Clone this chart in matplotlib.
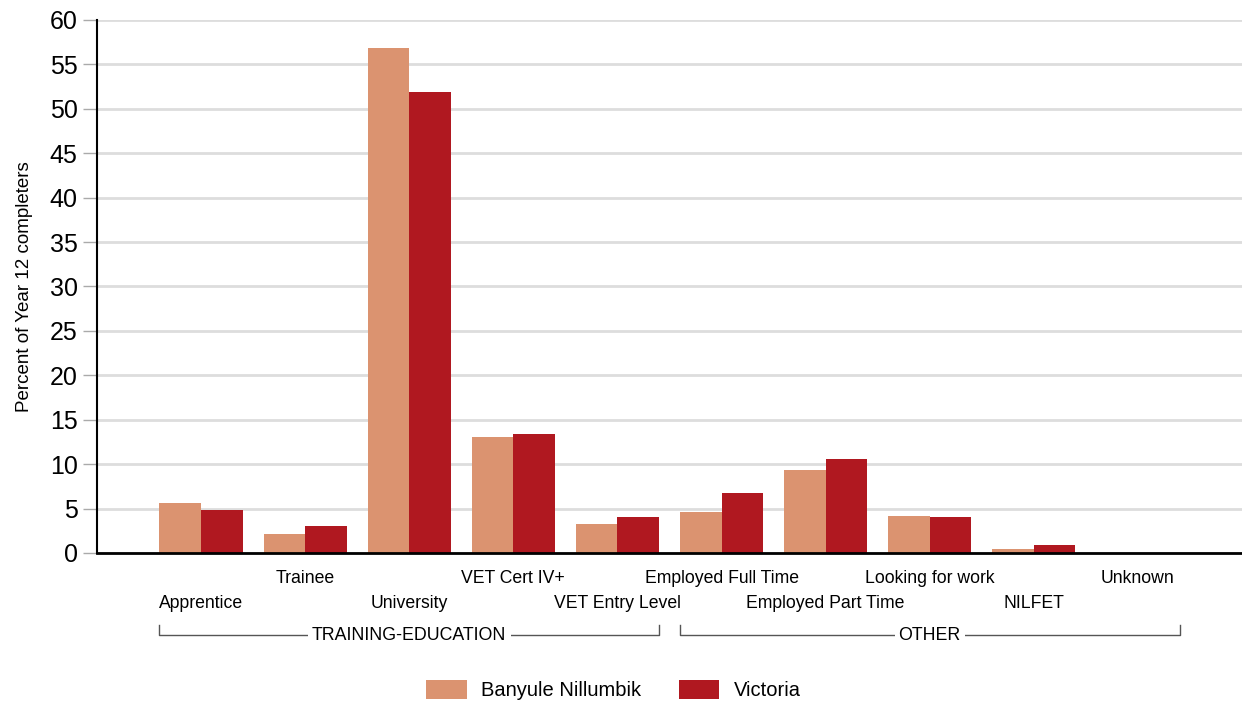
import matplotlib.pyplot as plt
import numpy as np

plt.rcParams['font.family'] = ['Liberation Sans', 'DejaVu Sans']

# Destinations of Year 12 completers
categories = ['Apprentice', 'Trainee', 'University', 'VET Cert IV+', 'VET Entry Level',
              'Employed Full Time', 'Employed Part Time', 'Looking for work', 'NILFET', 'Unknown']
banyule = [5.6, 2.1, 56.8, 13.1, 3.3, 4.6, 9.3, 4.2, 0.4, 0.0]
victoria = [4.8, 3.0, 51.9, 13.4, 4.0, 6.8, 10.6, 4.1, 0.85, 0.0]
groups = [('TRAINING-EDUCATION', 0, 4), ('OTHER', 5, 9)]

c_ban = '#db9370'
c_vic = '#b01820'

x = np.arange(len(categories))
width = 0.4

fig = plt.figure(figsize=(12.42, 7.04), dpi=100)
ax = fig.add_axes([0.0781, 0.2145, 0.9219, 0.7571])

ax.bar(x - width/2, banyule, width, color=c_ban, label='Banyule Nillumbik', zorder=3)
ax.bar(x + width/2, victoria, width, color=c_vic, label='Victoria', zorder=3)

ax.set_xlim(-1, 10)
ax.set_ylim(0, 60)
ax.set_yticks(np.arange(0, 61, 5))
ax.yaxis.grid(True, color='#dddddd', linewidth=2, zorder=0)
ax.tick_params(axis='y', labelsize=18, length=10, color='#aaaaaa', width=1, pad=4)
ax.set_ylabel('Percent of Year 12 completers', fontsize=13.5, labelpad=12)

# staggered category labels: even ones low, odd ones high
ax.set_xticks(x[::2])
ax.set_xticklabels(categories[::2], fontsize=12.7)
ax.set_xticks(x[1::2], minor=True)
ax.set_xticklabels(categories[1::2], minor=True, fontsize=12.7)
ax.tick_params(axis='x', which='major', length=0, pad=30)
ax.tick_params(axis='x', which='minor', length=0, pad=12.5)

for s in ['top', 'right']:
    ax.spines[s].set_visible(False)
ax.spines['left'].set_linewidth(1.5)
ax.spines['bottom'].set_linewidth(2)
ax.spines['left'].set_zorder(4)
ax.spines['bottom'].set_zorder(4)

# group brackets under the labels
tr = ax.get_xaxis_transform()
for name, i0, i1 in groups:
    x0 = i0 - width
    x1 = i1 + width
    xm = (x0 + x1) / 2
    ax.plot([x0, x0, x1, x1], [-0.136, -0.154, -0.154, -0.136], transform=tr,
            color='#555555', linewidth=1, clip_on=False)
    ax.text(xm, -0.154, name, transform=tr, ha='center', va='center', fontsize=12.8,
            bbox=dict(facecolor='white', edgecolor='none', pad=3))

ax.legend(loc='center', bbox_to_anchor=(0.451, -0.257), ncol=2, frameon=False,
          fontsize=14.5, handlelength=2.0, handleheight=1.1, handletextpad=0.7,
          columnspacing=1.9)

plt.savefig('out.png', dpi=100)
